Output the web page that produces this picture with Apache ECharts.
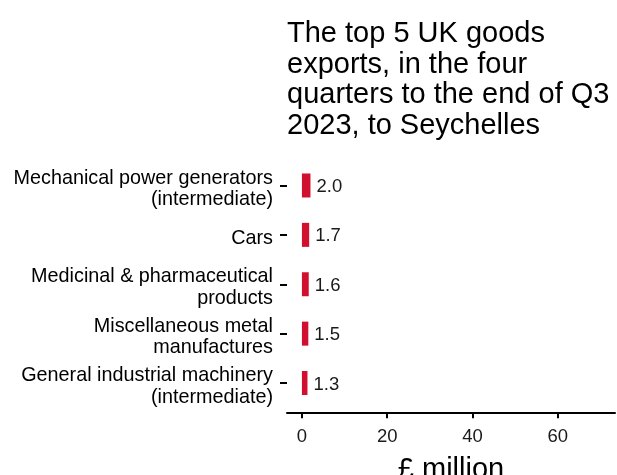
<!DOCTYPE html>
<html><head><meta charset="utf-8">
<script src="https://cdn.jsdelivr.net/npm/echarts@6/dist/echarts.min.js"></script>
<style>html,body{margin:0;padding:0;background:#fff}#c{width:617px;height:475px}</style>
</head><body><div id="c"></div>
<script>
var categories = [
  "Mechanical power generators\n(intermediate)",
  "Cars",
  "Medicinal & pharmaceutical\nproducts",
  "Miscellaneous metal\nmanufactures",
  "General industrial machinery\n(intermediate)"
];
var values = [2.0, 1.7, 1.6, 1.5, 1.3];
var xTicks = [0, 20, 40, 60];
var titleText = "The top 5 UK goods\nexports, in the four\nquarters to the end of Q3\n2023, to Seychelles";
var xName = "£ million";

var chart = echarts.init(document.getElementById('c'), null, {renderer: 'canvas'});
chart.setOption({
  animation: false,
  textStyle: {fontFamily: 'Liberation Sans, Arial, sans-serif'},
  title: {
    text: titleText,
    left: 282, top: 14,
    textStyle: {fontSize: 29, fontWeight: 'normal', color: '#000', lineHeight: 30.5, fontFamily: 'Liberation Sans'}
  },
  grid: {left: 287, right: 2, top: 160.8, bottom: 67.3, containLabel: false, outerBoundsMode: 'none'},
  xAxis: {
    type: 'value', min: -3.5, max: 73.4,
    offset: 5.5,
    name: xName, nameLocation: 'middle', nameGap: 42,
    nameTextStyle: {fontSize: 29, color: '#000', fontFamily: 'Liberation Sans'},
    axisLine: {show: true, lineStyle: {color: '#000', width: 2}},
    axisTick: {show: true, length: 5, lineStyle: {color: '#000', width: 2}, customValues: xTicks},
    axisLabel: {fontSize: 18.5, color: '#1a1a1a', margin: 14, customValues: xTicks},
    splitLine: {show: false}
  },
  yAxis: {
    type: 'category', data: categories, inverse: true,
    axisLine: {show: false, onZero: false},
    axisTick: {show: true, alignWithLabel: true, interval: 0, length: 7, lineStyle: {color: '#000', width: 2}},
    axisLabel: {fontSize: 19.8, color: '#000', margin: 14, lineHeight: 21.5, align: 'right',
      interval: 0, showMinLabel: true, showMaxLabel: true, hideOverlap: false,
      formatter: function(v){ return '{s| }\n' + v; },
      rich: {s: {fontSize: 1, lineHeight: 7}}}
  },
  series: [{
    type: 'bar', data: values, barWidth: 24,
    itemStyle: {color: '#D0102E'},
    label: {show: true, position: 'right', distance: 6, fontSize: 18.5, color: '#1a1a1a', offset: [0, 1.5],
      formatter: function(p){ return p.value.toFixed(1); }}
  }]
});
</script></body></html>
